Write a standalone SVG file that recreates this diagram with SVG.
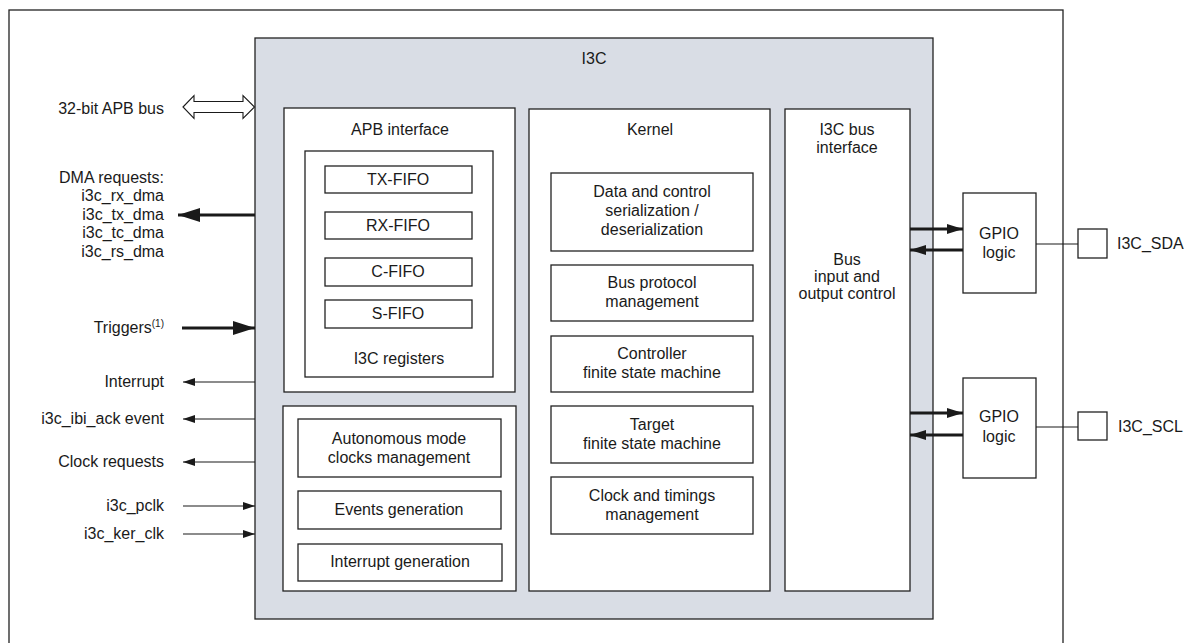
<svg xmlns="http://www.w3.org/2000/svg" width="1195" height="643" viewBox="0 0 1195 643">
  <style>
    .box { fill: #ffffff; stroke: #222222; stroke-width: 1.3; }
    .blk { fill: #d9dde5; stroke: #222222; stroke-width: 1.3; }
    .t { font-family: "Liberation Sans", Arial, sans-serif; font-size: 16px; fill: #1a1a1a; }
    .c { text-anchor: middle; }
    .r { text-anchor: end; }
    .thin { stroke: #1a1a1a; stroke-width: 1.2; fill: none; }
    .thick { stroke: #1a1a1a; stroke-width: 3; fill: none; }
  </style>
  <defs>
    <marker id="headSmall" viewBox="0 0 12 8" refX="12" refY="4" markerWidth="12" markerHeight="8" markerUnits="userSpaceOnUse" orient="auto">
      <path d="M0,0 L12,4 L0,8 z" fill="#1a1a1a"/>
    </marker>
    <marker id="headBig" viewBox="0 0 22 14" refX="22" refY="7" markerWidth="22" markerHeight="14" markerUnits="userSpaceOnUse" orient="auto">
      <path d="M0,0 L22,7 L0,14 z" fill="#1a1a1a"/>
    </marker>
    <marker id="headMid" viewBox="0 0 16 10" refX="16" refY="5" markerWidth="16" markerHeight="10" markerUnits="userSpaceOnUse" orient="auto">
      <path d="M0,0 L16,5 L0,10 z" fill="#1a1a1a"/>
    </marker>
  </defs>

  <rect width="1195" height="643" fill="#ffffff"/>

  <!-- outer frame, open at the bottom edge -->
  <rect x="9" y="10" width="1054" height="650" fill="none" stroke="#222222" stroke-width="1.3"/>

  <!-- I3C peripheral block -->
  <g id="i3c">
    <rect class="blk" x="255" y="38" width="678" height="581"/>
    <text class="t c" x="594" y="64">I3C</text>
  </g>

  <g id="apb-interface">
    <rect class="box" x="284" y="108" width="231" height="284"/>
    <text class="t c" x="400" y="135">APB interface</text>
  </g>

  <g id="i3c-registers">
    <rect class="box" x="305" y="151" width="188" height="226"/>
    <text class="t c" x="399" y="364">I3C registers</text>
  </g>

  <g id="tx-fifo">
    <rect class="box" x="325" y="166" width="147" height="27"/>
    <text class="t c" x="398" y="185">TX-FIFO</text>
  </g>
  <g id="rx-fifo">
    <rect class="box" x="325" y="212" width="147" height="27"/>
    <text class="t c" x="398" y="231">RX-FIFO</text>
  </g>
  <g id="c-fifo">
    <rect class="box" x="325" y="258" width="147" height="28"/>
    <text class="t c" x="398" y="277">C-FIFO</text>
  </g>
  <g id="s-fifo">
    <rect class="box" x="325" y="300" width="147" height="28"/>
    <text class="t c" x="398" y="319">S-FIFO</text>
  </g>

  <g id="control-block">
    <rect class="box" x="283" y="406" width="233" height="185"/>
  </g>
  <g id="autonomous-mode">
    <rect class="box" x="298" y="419" width="203" height="58"/>
    <text class="t c" x="399" y="444">Autonomous mode</text>
    <text class="t c" x="399" y="463">clocks management</text>
  </g>
  <g id="events-generation">
    <rect class="box" x="298" y="491" width="203" height="38"/>
    <text class="t c" x="399" y="515">Events generation</text>
  </g>
  <g id="interrupt-generation">
    <rect class="box" x="298" y="544" width="204" height="37"/>
    <text class="t c" x="400" y="567">Interrupt generation</text>
  </g>

  <g id="kernel">
    <rect class="box" x="529" y="109" width="241" height="482"/>
    <text class="t c" x="650" y="135">Kernel</text>
  </g>
  <g id="serialization">
    <rect class="box" x="551" y="173" width="202" height="78"/>
    <text class="t c" x="652" y="197">Data and control</text>
    <text class="t c" x="652" y="216">serialization /</text>
    <text class="t c" x="652" y="235">deserialization</text>
  </g>
  <g id="bus-protocol">
    <rect class="box" x="551" y="265" width="202" height="56"/>
    <text class="t c" x="652" y="288">Bus protocol</text>
    <text class="t c" x="652" y="307">management</text>
  </g>
  <g id="controller-fsm">
    <rect class="box" x="551" y="336" width="202" height="56"/>
    <text class="t c" x="652" y="359">Controller</text>
    <text class="t c" x="652" y="378">finite state machine</text>
  </g>
  <g id="target-fsm">
    <rect class="box" x="551" y="406" width="202" height="57"/>
    <text class="t c" x="652" y="430">Target</text>
    <text class="t c" x="652" y="449">finite state machine</text>
  </g>
  <g id="clock-timings">
    <rect class="box" x="551" y="477" width="202" height="57"/>
    <text class="t c" x="652" y="501">Clock and timings</text>
    <text class="t c" x="652" y="520">management</text>
  </g>

  <g id="bus-interface">
    <rect class="box" x="785" y="109" width="125" height="482"/>
    <text class="t c" x="847" y="135">I3C bus</text>
    <text class="t c" x="847" y="153">interface</text>
    <text class="t c" x="847" y="265">Bus</text>
    <text class="t c" x="847" y="282">input and</text>
    <text class="t c" x="847" y="299">output control</text>
  </g>

  <g id="gpio-sda">
    <rect class="box" x="963" y="193" width="73" height="100"/>
    <text class="t c" x="999" y="239">GPIO</text>
    <text class="t c" x="999" y="258">logic</text>
  </g>
  <g id="gpio-scl">
    <rect class="box" x="963" y="378" width="73" height="100"/>
    <text class="t c" x="999" y="422">GPIO</text>
    <text class="t c" x="999" y="442">logic</text>
  </g>

  <g id="pad-sda">
    <rect class="box" x="1078" y="229" width="29" height="29"/>
    <text class="t" x="1117" y="249">I3C_SDA</text>
  </g>
  <g id="pad-scl">
    <rect class="box" x="1078" y="412" width="29" height="28"/>
    <text class="t" x="1118" y="432">I3C_SCL</text>
  </g>

  <!-- external signal labels -->
  <g id="signals">
    <text class="t r" x="164" y="114">32-bit APB bus</text>
    <text class="t r" x="164" y="183">DMA requests:</text>
    <text class="t r" x="164" y="201">i3c_rx_dma</text>
    <text class="t r" x="164" y="220">i3c_tx_dma</text>
    <text class="t r" x="164" y="238">i3c_tc_dma</text>
    <text class="t r" x="164" y="257">i3c_rs_dma</text>
    <text class="t r" x="164" y="333">Triggers<tspan font-size="10" dy="-6">(1)</tspan></text>
    <text class="t r" x="164" y="387">Interrupt</text>
    <text class="t r" x="164" y="424">i3c_ibi_ack event</text>
    <text class="t r" x="164" y="467">Clock requests</text>
    <text class="t r" x="164" y="511">i3c_pclk</text>
    <text class="t r" x="164" y="539">i3c_ker_clk</text>
  </g>

  <!-- connectors -->
  <g id="connectors">
    <!-- APB bus: hollow double arrow -->
    <path d="M183,107 L194,95.5 L194,101.5 L243,101.5 L243,95.5 L254.5,107 L243,118.5 L243,112.5 L194,112.5 L194,118.5 Z" fill="#ffffff" stroke="#1a1a1a" stroke-width="1.1"/>
    <line class="thick" x1="255" y1="215" x2="178" y2="215" marker-end="url(#headBig)"/>
    <line class="thick" x1="182" y1="328" x2="255" y2="328" marker-end="url(#headBig)"/>
    <line class="thin" x1="255" y1="382" x2="183" y2="382" marker-end="url(#headSmall)"/>
    <line class="thin" x1="255" y1="419" x2="183" y2="419" marker-end="url(#headSmall)"/>
    <line class="thin" x1="255" y1="462" x2="183" y2="462" marker-end="url(#headSmall)"/>
    <line class="thin" x1="183" y1="506" x2="255" y2="506" marker-end="url(#headSmall)"/>
    <line class="thin" x1="183" y1="534" x2="255" y2="534" marker-end="url(#headSmall)"/>

    <line class="thick" stroke-width="2" x1="910" y1="229" x2="963" y2="229" marker-end="url(#headMid)"/>
    <line class="thick" stroke-width="2" x1="963" y1="250" x2="910" y2="250" marker-end="url(#headMid)"/>
    <line class="thick" stroke-width="2" x1="910" y1="413" x2="963" y2="413" marker-end="url(#headMid)"/>
    <line class="thick" stroke-width="2" x1="963" y1="435" x2="910" y2="435" marker-end="url(#headMid)"/>

    <line class="thin" x1="1036" y1="244" x2="1078" y2="244"/>
    <line class="thin" x1="1036" y1="427" x2="1078" y2="427"/>
  </g>
</svg>
